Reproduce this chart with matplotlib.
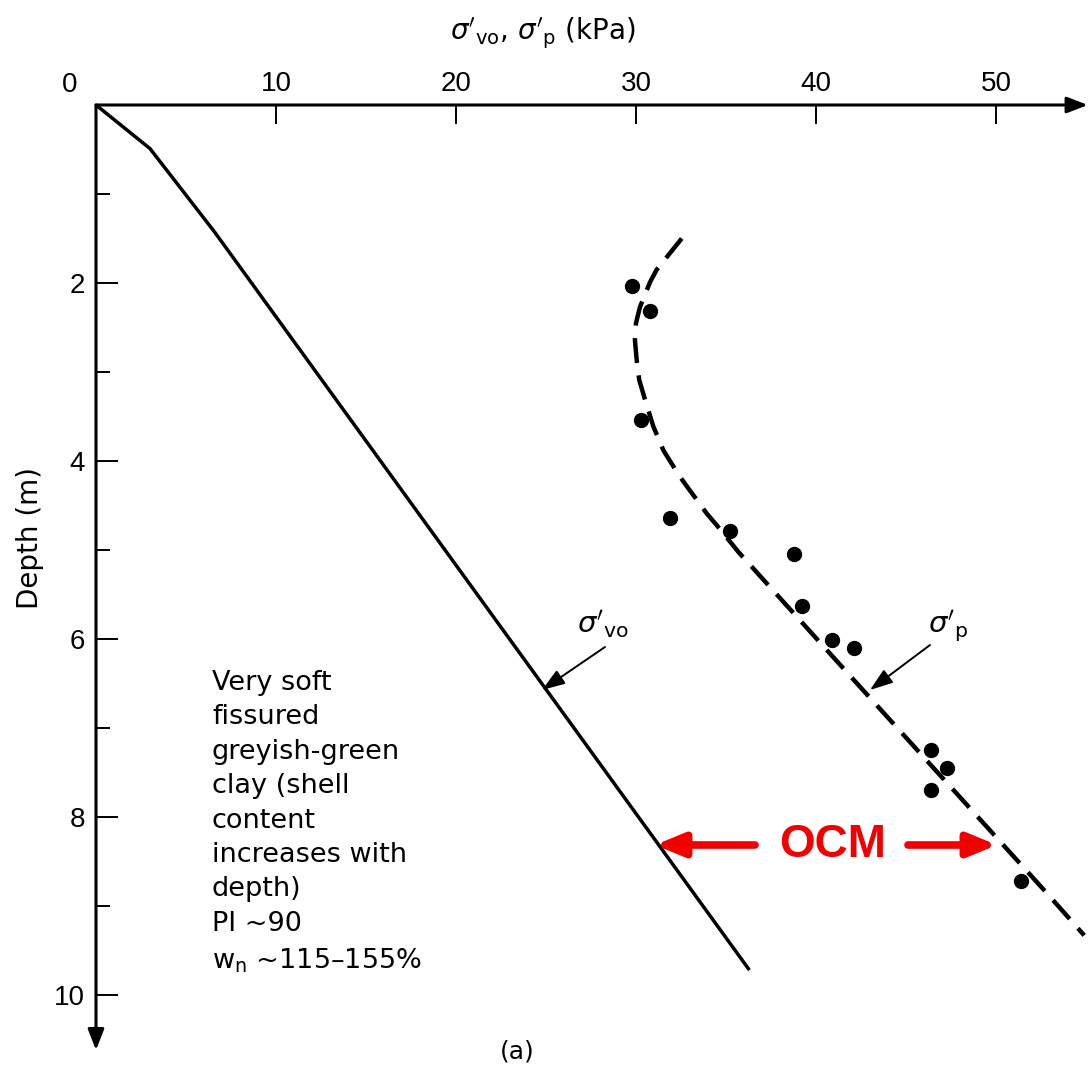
import matplotlib
matplotlib.use("Agg")
import matplotlib.pyplot as plt

plt.rcParams['font.family'] = ['Liberation Sans', 'DejaVu Sans']
plt.rcParams['mathtext.fontset'] = 'dejavusans'
plt.rcParams['lines.scale_dashes'] = False

# sigma'_vo line (kPa, depth m)
svo_stress = [0.0, 3.0, 6.6, 36.3]
svo_depth = [0.0, 0.49, 1.43, 9.72]

# sigma'_p dashed trend curve
sp_stress = [32.54, 31.15, 30.78, 30.22, 30.0, 29.94, 30.04, 30.18, 30.5, 30.96,
             31.52, 32.26, 32.63, 33.93, 34.48, 35.68, 42.1, 52.8, 54.9]
sp_depth = [1.50, 1.85, 1.99, 2.27, 2.45, 2.64, 2.87, 3.09, 3.31, 3.61,
            3.88, 4.12, 4.23, 4.59, 4.72, 5.02, 6.46, 8.85, 9.33]

# measured preconsolidation pressures
pts_stress = [29.8, 30.8, 30.3, 31.9, 35.2, 38.8, 39.2, 40.9, 42.1, 46.4, 47.3, 46.4, 51.4]
pts_depth = [2.03, 2.31, 3.54, 4.64, 4.79, 5.04, 5.63, 6.01, 6.10, 7.25, 7.45, 7.70, 8.72]

x_ticks = [10, 20, 30, 40, 50]
y_major = [2, 4, 6, 8, 10]
y_minor = [1, 3, 5, 7, 9]

W, H = 1089, 1070
fig = plt.figure(figsize=(W / 100, H / 100), dpi=100)
fig.patch.set_facecolor('white')

x0, y0 = 96, 105
pxk, pxm = 18.0, 89.0
xmax, ymax = 55.0, 10.6
ax = fig.add_axes([x0 / W, 1 - (y0 + ymax * pxm) / H, xmax * pxk / W, ymax * pxm / H])
ax.set_xlim(0, xmax)
ax.set_ylim(ymax, 0)
for s in ax.spines.values():
    s.set_visible(False)

# axes with arrows
ax.annotate('', xy=(xmax + 0.1, 0), xytext=(0, 0),
            arrowprops=dict(arrowstyle='-|>,head_length=0.9,head_width=0.35', lw=2.2,
                            color='black', shrinkA=0, shrinkB=0, mutation_scale=14),
            annotation_clip=False)
ax.annotate('', xy=(0, ymax + 0.02), xytext=(0, 0),
            arrowprops=dict(arrowstyle='-|>,head_length=0.9,head_width=0.35', lw=2.2,
                            color='black', shrinkA=0, shrinkB=0, mutation_scale=14),
            annotation_clip=False)

ax.xaxis.set_ticks_position('top')
ax.set_xticks(x_ticks)
ax.set_xticklabels([str(v) for v in x_ticks])
ax.tick_params(axis='x', direction='in', length=14, width=1.4, pad=6, labelsize=20)
ax.set_yticks(y_major)
ax.set_yticklabels([str(v) for v in y_major])
ax.set_yticks(y_minor, minor=True)
ax.tick_params(axis='y', which='major', direction='in', length=16, width=1.4, pad=8, labelsize=20)
ax.tick_params(axis='y', which='minor', direction='in', length=10, width=1.4)

fig.text(70 / W, 1 - 85 / H, '0', ha='center', va='center', fontsize=20)

# curves
ax.plot(svo_stress, svo_depth, color='black', lw=2.5, solid_capstyle='butt', clip_on=False)
ax.plot(sp_stress, sp_depth, color='black', lw=3.2, dashes=(18, 9), clip_on=False)
ax.plot(pts_stress, pts_depth, 'o', color='black', ms=10, clip_on=False)

# labels for the curves
ax.text((603 - x0) / pxk, (624 - y0) / pxm, r"$\sigma'_{\mathrm{vo}}$", fontsize=21,
        ha='center', va='center', family='DejaVu Sans')
ax.annotate('', xy=((542 - x0) / pxk, (690 - y0) / pxm), xytext=((605 - x0) / pxk, (647 - y0) / pxm),
            arrowprops=dict(arrowstyle='-|>,head_length=1.0,head_width=0.35', lw=1.4,
                            color='black', shrinkA=0, shrinkB=0, mutation_scale=14))
ax.text((948 - x0) / pxk, (626 - y0) / pxm, r"$\sigma'_{\mathrm{p}}$", fontsize=21,
        ha='center', va='center', family='DejaVu Sans')
ax.annotate('', xy=((870 - x0) / pxk, (690 - y0) / pxm), xytext=((930 - x0) / pxk, (645 - y0) / pxm),
            arrowprops=dict(arrowstyle='-|>,head_length=1.0,head_width=0.35', lw=1.4,
                            color='black', shrinkA=0, shrinkB=0, mutation_scale=14))

# OCM annotation
red = '#f20000'
d_ocm = (845 - y0) / pxm
ax.text((833 - x0) / pxk, d_ocm, 'OCM', color=red, fontsize=33, fontweight='bold',
        ha='center', va='center')
for tail, tip in [((755 - x0) / pxk, (655 - x0) / pxk), ((908 - x0) / pxk, (997 - x0) / pxk)]:
    ax.annotate('', xy=(tip, d_ocm), xytext=(tail, d_ocm),
                arrowprops=dict(arrowstyle='-|>,head_length=0.85,head_width=0.35', lw=5.5,
                                color=red, shrinkA=0, shrinkB=0, mutation_scale=20))

# description
desc = ("Very soft\nfissured\ngreyish-green\nclay (shell\ncontent\nincreases with\n"
        "depth)\nPI ~90\n$\\mathregular{w_n}$ ~115–155%")
fig.text(212 / W, 1 - 670 / H, desc, ha='left', va='top', fontsize=19.5,
         family='DejaVu Sans', linespacing=1.42)

fig.text(543 / W, 1 - 32 / H, r"$\sigma'_{\mathrm{vo}}$, $\sigma'_{\mathrm{p}}$ (kPa)",
         ha='center', va='center', fontsize=20, family='DejaVu Sans')
fig.text(30 / W, 1 - 538 / H, 'Depth (m)', rotation=90, ha='center', va='center',
         fontsize=20, family='DejaVu Sans')
fig.text(517 / W, 1 - 1052 / H, '(a)', ha='center', va='center', fontsize=18,
         family='DejaVu Sans')

fig.savefig('out.png', dpi=100, facecolor='white')
